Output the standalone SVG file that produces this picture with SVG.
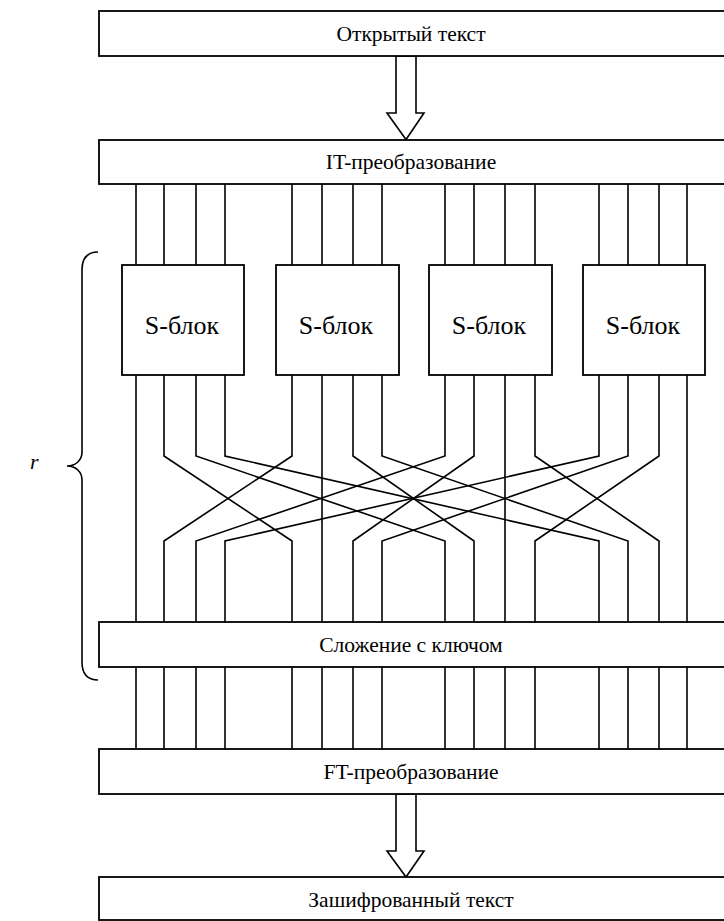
<svg xmlns="http://www.w3.org/2000/svg" width="724" height="921" viewBox="0 0 724 921">
  <style>
    .box { fill: #fff; stroke: #000; stroke-width: 1.8; }
    .lbl { font-family: "Liberation Serif", "Times New Roman", serif; font-size: 21.5px; text-anchor: middle; fill: #000; }
    .sl { font-family: "Liberation Serif", "Times New Roman", serif; font-size: 26px; text-anchor: middle; fill: #000; }
    .wire { fill: none; stroke: #000; stroke-width: 1.6; }
    .arrow { fill: #fff; stroke: #000; stroke-width: 1.6; stroke-linejoin: miter; }
  </style>
  <rect width="724" height="921" fill="#fff"/>

  <!-- wires between stages -->
  <g id="connectors" class="wire">
    <!-- IT transform to S-boxes -->
    <path d="M136,184V265M164,184V265M196,184V265M225,184V265M292,184V265M322,184V265M353,184V265M382,184V265M445,184V265M474,184V265M505,184V265M535,184V265M599,184V265M628,184V265M659,184V265M687,184V265"/>
    <!-- bit permutation: output k of box b goes to input b of box k -->
    <path d="M136,375V622"/>
    <path d="M164,375V456L292,541V622"/>
    <path d="M196,375V456L445,541V622"/>
    <path d="M225,375V456L599,541V622"/>
    <path d="M292,375V456L164,541V622"/>
    <path d="M322,375V622"/>
    <path d="M353,375V456L474,541V622"/>
    <path d="M382,375V456L628,541V622"/>
    <path d="M445,375V456L196,541V622"/>
    <path d="M474,375V456L353,541V622"/>
    <path d="M505,375V622"/>
    <path d="M535,375V456L659,541V622"/>
    <path d="M599,375V456L225,541V622"/>
    <path d="M628,375V456L382,541V622"/>
    <path d="M659,375V456L535,541V622"/>
    <path d="M687,375V622"/>
    <!-- key addition to FT transform -->
    <path d="M136,667V749M164,667V749M196,667V749M225,667V749M292,667V749M322,667V749M353,667V749M382,667V749M445,667V749M474,667V749M505,667V749M535,667V749M599,667V749M628,667V749M659,667V749M687,667V749"/>
  </g>

  <!-- hollow block arrows -->
  <g id="arrow-in">
    <path class="arrow" d="M396,56V113H387L406,139.5L424,113H416V56Z"/>
  </g>
  <g id="arrow-out">
    <path class="arrow" d="M396,794V851H387L406,877L424,851H416V794Z"/>
  </g>

  <g id="plaintext">
    <rect class="box" x="99" y="11" width="640" height="45"/>
    <text class="lbl" x="411" y="41">Открытый текст</text>
  </g>
  <g id="it-transform">
    <rect class="box" x="99" y="140" width="640" height="44"/>
    <text class="lbl" x="411" y="169">IT-преобразование</text>
  </g>

  <g id="sbox-1">
    <rect class="box" x="122" y="265" width="122" height="110"/>
    <text class="sl" x="182" y="334">S-блок</text>
  </g>
  <g id="sbox-2">
    <rect class="box" x="276" y="265" width="123" height="110"/>
    <text class="sl" x="336" y="334">S-блок</text>
  </g>
  <g id="sbox-3">
    <rect class="box" x="429" y="265" width="123" height="110"/>
    <text class="sl" x="489" y="334">S-блок</text>
  </g>
  <g id="sbox-4">
    <rect class="box" x="583" y="265" width="122" height="110"/>
    <text class="sl" x="643" y="334">S-блок</text>
  </g>

  <g id="key-addition">
    <rect class="box" x="99" y="622" width="640" height="45"/>
    <text class="lbl" x="411" y="652">Сложение с ключом</text>
  </g>
  <g id="ft-transform">
    <rect class="box" x="99" y="749" width="640" height="45"/>
    <text class="lbl" x="411" y="779">FT-преобразование</text>
  </g>
  <g id="ciphertext">
    <rect class="box" x="99" y="877" width="640" height="43"/>
    <text class="lbl" x="411" y="907">Зашифрованный текст</text>
  </g>

  <!-- round brace with repeat count -->
  <g id="rounds">
    <path class="wire" d="M98,252C88,252 82,258 82,270V452C82,460 76,466 67,466C76,466 82,472 82,480V662C82,674 88,680 98,680"/>
    <text x="30" y="469" font-family="Liberation Serif, Times New Roman, serif" font-size="22" font-style="italic">r</text>
  </g>
</svg>
